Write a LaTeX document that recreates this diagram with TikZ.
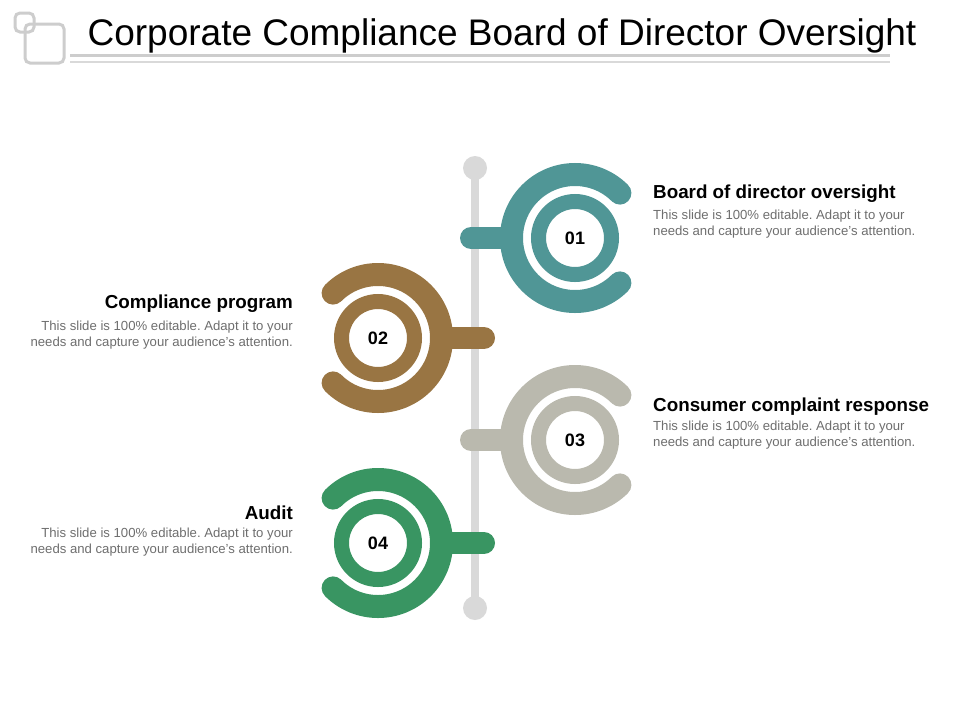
\documentclass[tikz,border=0pt]{standalone}
\usepackage{fontspec}
\setmainfont{Liberation Sans}
\frenchspacing
\definecolor{cteal}{RGB}{80,150,150}
\definecolor{cbrown}{RGB}{153,117,67}
\definecolor{cgrey}{RGB}{186,185,174}
\definecolor{cgreen}{RGB}{57,149,98}
\definecolor{linegray}{RGB}{217,217,217}
\definecolor{icongray}{RGB}{205,205,205}
\definecolor{bodygray}{RGB}{110,110,110}
\tikzset{
 vline/.style={line width=8pt, draw=linegray},
 enddot/.style={circle, fill=linegray, minimum size=24pt, inner sep=0pt},
 stem/.style={line width=22pt, line cap=round},
 outerarc/.style={line width=23pt, line cap=round},
 innerring/.style={circle, draw, line width=15pt, minimum size=73pt, inner sep=0pt, fill=white, font=\bfseries\fontsize{18}{18}\selectfont},
 head/.style={font=\bfseries\fontsize{18.8}{20}\selectfont, inner sep=0pt},
 body/.style={font=\fontsize{13.15}{16}\selectfont, text=bodygray, inner sep=0pt},
 iconbox/.style={draw=icongray, line width=3pt, rounded corners=5pt},
}
\begin{document}
\begin{tikzpicture}[x=1pt,y=-1pt]
\useasboundingbox (0,0) rectangle (960,720);
% title icon
\draw[iconbox] (15,13) rectangle (34,32);
\draw[iconbox] (25,24) rectangle (64,63);
% title
\node[font=\fontsize{37}{40}\selectfont, anchor=base, inner sep=0pt] (title) at (502,45) {Corporate Compliance Board of Director Oversight};
\coordinate (l1a) at (70,55.5); \coordinate (l1b) at (890,55.5);
\coordinate (l2a) at (70,61.5); \coordinate (l2b) at (890,61.5);
\draw[draw=icongray, line width=3.5pt] (l1a) -- (l1b);
\draw[draw=linegray, line width=2pt] (l2a) -- (l2b);
% vertical line
\node[enddot] (top) at (475,168) {};
\node[enddot] (bot) at (475,608) {};
\draw[vline] (top.center) -- (bot.center);
% ring 1
\node[innerring, draw=cteal] (r1) at (575,238) {01};
\coordinate (s1a) at (471,238); \coordinate (s1b) at (505,238);
\draw[stem, cteal] (s1a) -- (s1b);
\draw[outerarc, cteal] (r1.center) ++(45:63.5) arc[start angle=45, end angle=315, radius=63.5];
% ring 2
\node[innerring, draw=cbrown] (r2) at (378,338) {02};
\coordinate (s2a) at (484,338); \coordinate (s2b) at (448,338);
\draw[stem, cbrown] (s2a) -- (s2b);
\draw[outerarc, cbrown] (r2.center) ++(135:63.5) arc[start angle=135, end angle=-135, radius=63.5];
% ring 3
\node[innerring, draw=cgrey] (r3) at (575,440) {03};
\coordinate (s3a) at (471,440); \coordinate (s3b) at (505,440);
\draw[stem, cgrey] (s3a) -- (s3b);
\draw[outerarc, cgrey] (r3.center) ++(45:63.5) arc[start angle=45, end angle=315, radius=63.5];
% ring 4
\node[innerring, draw=cgreen] (r4) at (378,543) {04};
\coordinate (s4a) at (484,543); \coordinate (s4b) at (448,543);
\draw[stem, cgreen] (s4a) -- (s4b);
\draw[outerarc, cgreen] (r4.center) ++(135:63.5) arc[start angle=135, end angle=-135, radius=63.5];
% texts
\node[head, anchor=base west] (h1) at (653,198) {Board of director oversight};
\node[body, anchor=base west, align=left] (b1) at (653,235) {This slide is 100\% editable. Adapt it to your\\needs and capture your audience's attention.};
\node[head, anchor=base east] (h2) at (293,308) {Compliance program};
\node[body, anchor=base east, align=right] (b2) at (293,346) {This slide is 100\% editable. Adapt it to your\\needs and capture your audience's attention.};
\node[head, anchor=base west] (h3) at (653,411) {Consumer complaint response};
\node[body, anchor=base west, align=left] (b3) at (653,446) {This slide is 100\% editable. Adapt it to your\\needs and capture your audience's attention.};
\node[head, anchor=base east] (h4) at (293,519) {Audit};
\node[body, anchor=base east, align=right] (b4) at (293,553) {This slide is 100\% editable. Adapt it to your\\needs and capture your audience's attention.};
\end{tikzpicture}
\end{document}
